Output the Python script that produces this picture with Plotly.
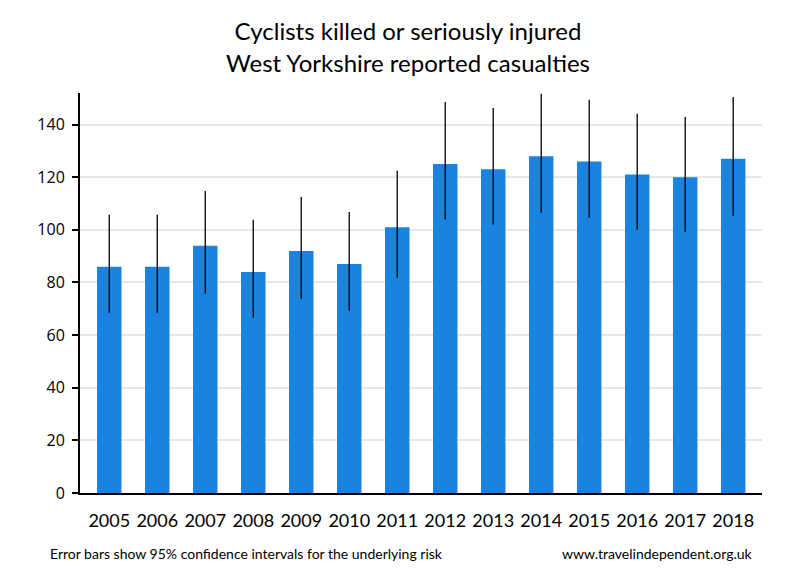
import plotly.graph_objects as go

years = ["2005", "2006", "2007", "2008", "2009", "2010", "2011",
         "2012", "2013", "2014", "2015", "2016", "2017", "2018"]
casualties = [86, 86, 94, 84, 92, 87, 101, 125, 123, 128, 126, 121, 120, 127]
ci_upper = [105.7, 105.7, 114.8, 103.8, 112.5, 106.8, 122.5,
            148.6, 146.3, 151.7, 149.4, 144.1, 142.9, 150.5]
ci_lower = [68.5, 68.5, 75.7, 66.6, 73.8, 69.3, 81.8,
            103.9, 102.0, 106.5, 104.6, 100.0, 99.3, 105.4]

err_plus = [u - v for u, v in zip(ci_upper, casualties)]
err_minus = [v - l for v, l in zip(casualties, ci_lower)]

FONT = "Lato"

fig = go.Figure()
fig.add_trace(go.Bar(
    x=years, y=casualties,
    marker=dict(color="#1b82e0", line=dict(width=0)),
    error_y=dict(type="data", symmetric=False, array=err_plus, arrayminus=err_minus,
                 color="black", thickness=1.3, width=0),
    hoverinfo="x+y",
))

fig.update_layout(
    width=800, height=580,
    margin=dict(l=72, r=46, t=85, b=95),
    paper_bgcolor="white", plot_bgcolor="white",
    bargap=0.49,
    showlegend=False,
    font=dict(family=FONT, color="black"),
    title=dict(text="Cyclists killed or seriously injured<br>West Yorkshire reported casualties",
               x=0.5, xanchor="center", y=0.944, yanchor="top",
               font=dict(family=FONT, size=24, color="black")),
    xaxis=dict(
        range=[-0.61, 13.6], showline=True, linecolor="black", linewidth=2,
        ticks="", showgrid=False, tickfont=dict(family=FONT, size=18, color="black"),
        ticklabelstandoff=10, fixedrange=True,
    ),
    yaxis=dict(
        range=[0, 152], showline=True, linecolor="black", linewidth=2,
        ticks="outside", ticklen=6, tickwidth=2, tickcolor="black",
        dtick=20, showgrid=True, gridcolor="#e6e6e6", gridwidth=2,
        zeroline=False, tickfont=dict(family="Open Sans", size=16, color="black"),
        ticklabelstandoff=4, fixedrange=True,
    ),
    annotations=[
        dict(text="Error bars show 95% confidence intervals for the underlying risk",
             xref="paper", yref="paper", x=-0.047, y=-0.15, xanchor="left", yanchor="middle",
             showarrow=False, font=dict(family=FONT, size=14, color="black")),
        dict(text="www.travelindependent.org.uk",
             xref="paper", yref="paper", x=0.99, y=-0.15, xanchor="right", yanchor="middle",
             showarrow=False, font=dict(family=FONT, size=14, color="black")),
    ],
)

fig.write_html("out.html")
